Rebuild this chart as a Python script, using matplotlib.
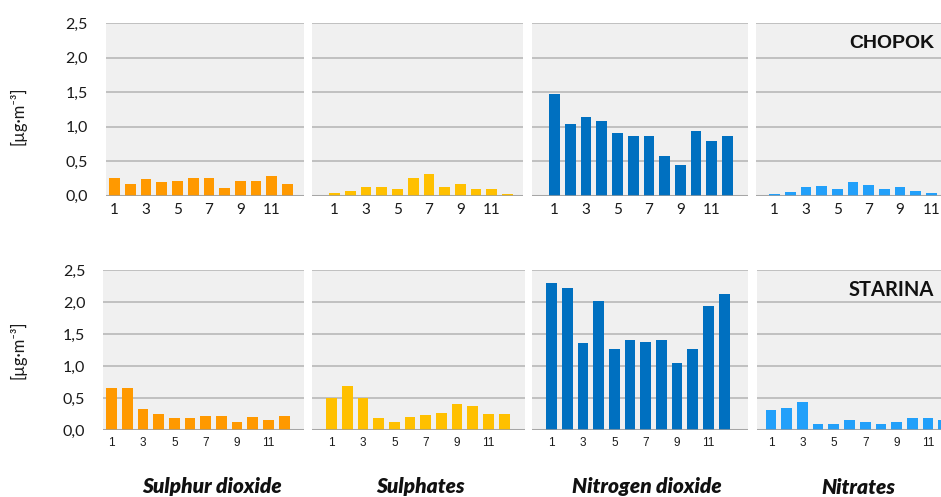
import matplotlib
matplotlib.use("Agg")
import matplotlib.pyplot as plt
import numpy as np

# ---------------- data ----------------
months = list(range(1, 13))
x_tick_values = [1, 3, 5, 7, 9, 11]
y_ticks = [0.0, 0.5, 1.0, 1.5, 2.0, 2.5]
y_tick_labels = ["0,0", "0,5", "1,0", "1,5", "2,0", "2,5"]
components = ["Sulphur dioxide", "Sulphates", "Nitrogen dioxide", "Nitrates"]
stations = ["CHOPOK", "STARINA"]

chopok_so2 = [0.26, 0.17, 0.24, 0.20, 0.22, 0.26, 0.26, 0.11, 0.22, 0.22, 0.28, 0.17]
chopok_so4 = [0.04, 0.07, 0.12, 0.13, 0.10, 0.26, 0.32, 0.13, 0.17, 0.09, 0.09, 0.03]
chopok_no2 = [1.47, 1.04, 1.14, 1.08, 0.91, 0.87, 0.87, 0.58, 0.45, 0.94, 0.80, 0.87]
chopok_no3 = [0.03, 0.06, 0.12, 0.14, 0.10, 0.20, 0.16, 0.10, 0.12, 0.07, 0.04, 0.03]

starina_so2 = [0.65, 0.65, 0.33, 0.25, 0.18, 0.19, 0.22, 0.22, 0.13, 0.21, 0.15, 0.22]
starina_so4 = [0.50, 0.68, 0.50, 0.18, 0.13, 0.21, 0.24, 0.27, 0.40, 0.38, 0.25, 0.25]
starina_no2 = [2.30, 2.22, 1.36, 2.02, 1.27, 1.40, 1.38, 1.40, 1.05, 1.27, 1.94, 2.13]
starina_no3 = [0.32, 0.35, 0.43, 0.10, 0.10, 0.16, 0.13, 0.10, 0.12, 0.19, 0.18, 0.16]

rows = [
    [chopok_so2, chopok_so4, chopok_no2, chopok_no3],
    [starina_so2, starina_so4, starina_no2, starina_no3],
]

colors = ["#FF9900", "#FFC000", "#0070C0", "#22A0FA"]

# ---------------- layout (pixels) ----------------
W, H = 941, 497
fig = plt.figure(figsize=(W / 100, H / 100), dpi=100)
fig.patch.set_facecolor("white")

step = 15.7  # px per category
# (left, first bar centre, right) per panel, per row
layout = [
    [(106, 114.7, 304), (311.7, 334.7, 523), (531.7, 554.7, 748), (756, 774.5, 970)],
    [(103.3, 111.5, 304), (312.3, 331.5, 525), (532.3, 551.5, 748.3), (756.7, 771, 970)],
]
row_y = [(23.3, 195.7), (270, 430)]
tick_font = [dict(family="Lato", size=11), dict(family="Liberation Sans", size=8.5)]
tick_pad = [5, 5]

for r in range(2):
    ytop, ybot = row_y[r]
    for c in range(4):
        left, c1, right = layout[r][c]
        ax = fig.add_axes([left / W, 1 - ybot / H, (right - left) / W, (ybot - ytop) / H])
        ax.set_facecolor("#F0F0F0")
        ax.bar(months, rows[r][c], width=0.68, color=colors[c], zorder=3)
        ax.set_xlim(1 - (c1 - left) / step, 1 + (right - c1) / step)
        ax.set_ylim(0, 2.5)
        ax.set_yticks(y_ticks)
        ax.grid(axis="y", color="#BDBDBD", lw=1.3, zorder=1)
        ax.axhline(0, color="#9E9E9E", lw=2.2, alpha=0.75, zorder=4)
        for s in ax.spines.values():
            s.set_visible(False)
        ax.set_xticks(x_tick_values)
        ax.set_xticklabels([str(v) for v in x_tick_values], **tick_font[r], color="#1a1a1a")
        ax.tick_params(axis="x", length=0, pad=tick_pad[r])
        if c == 0:
            ax.set_yticklabels(y_tick_labels, family="Lato", size=11.5, color="#1a1a1a")
            ax.tick_params(axis="y", length=0, pad=13)
        else:
            ax.tick_params(axis="y", length=0, labelleft=False)

# y axis labels
for yc in [116, 350]:
    fig.text(18 / W, 1 - yc / H, "[µg·m⁻³]", rotation=90, ha="center", va="center",
             family=["Lato", "DejaVu Sans"], size=12, color="#1a1a1a")

# station labels
fig.text(934 / W, 1 - 43 / H, stations[0], ha="right", va="center",
         family="Liberation Sans", weight="bold", size=14, color="#111111")
fig.text(934 / W, 1 - 290 / H, stations[1], ha="right", va="center",
         family="Lato", weight="bold", size=14.5, color="#111111")

# component labels
for xc, name in zip([212, 420, 647, 858], components):
    fig.text(xc / W, 1 - 487 / H, name, ha="center", va="center",
             family="Lato", weight="heavy", style="italic", size=15, color="#111111")

fig.savefig("out.png", dpi=100)
